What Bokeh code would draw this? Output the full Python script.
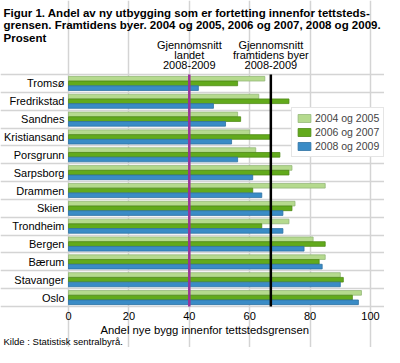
from bokeh.plotting import figure
from bokeh.models import ColumnDataSource, Label, Legend, LegendItem, FixedTicker
from bokeh.embed import file_html
from bokeh.resources import INLINE

cities = ["Tromsø", "Fredrikstad", "Sandnes", "Kristiansand", "Porsgrunn", "Sarpsborg",
          "Drammen", "Skien", "Trondheim", "Bergen", "Bærum", "Stavanger", "Oslo"]
v2004_2005 = [65, 63, 56, 60, 62, 74, 85, 75, 73, 81, 85, 90, 97]
v2006_2007 = [56, 73, 57, 67, 70, 73, 61, 74, 64, 85, 83, 91, 94]
v2008_2009 = [43, 48, 52, 54, 56, 61, 64, 71, 71, 78, 84, 90, 96]
series_names = ["2004 og 2005", "2006 og 2007", "2008 og 2009"]
avg_landet = 40
avg_byer = 67
x_ticks = [0, 20, 40, 60, 80, 100]

title_lines = ["Figur 1. Andel av ny utbygging som er fortetting innenfor tettsteds-",
               "grensen. Framtidens byer. 2004 og 2005, 2006 og 2007, 2008 og 2009.",
               "Prosent"]
ann1 = ["Gjennomsnitt", "landet", "2008-2009"]
ann2 = ["Gjennomsnitt", "framtidens byer", "2008-2009"]
x_label = "Andel nye bygg innenfor tettstedsgrensen"
source_text = "Kilde : Statistisk sentralbyrå."

FONT = "Liberation Sans"
n = len(cities)
ypos = [n - 1 - i for i in range(n)]
colors = ["#b5da8e", "#62aa1c", "#3a8cc6"]
outlines = ["#94b878", "#4f8a17", "#2f72a3"]
offsets = [0.265, 0.0, -0.265]
bar_h = 0.26

# canvas geometry (the frame covers the whole canvas; axes sit at fixed data locations)
W, H = 384, 347
plot_left, plot_right = 68, 370
plot_top, plot_bottom = 74, 306
px_x = (plot_right - plot_left) / 100.0
px_y = (plot_bottom - plot_top) / n
x_start = -plot_left / px_x
x_end = 100 + (W - plot_right) / px_x
y_start = -0.5 - (H - plot_bottom) / px_y
y_end = (n - 0.5) + plot_top / px_y

p = figure(width=W, height=H, output_backend="svg", toolbar_location=None,
           x_range=(x_start, x_end), y_range=(y_start, y_end),
           min_border=0, min_border_left=0, min_border_right=0,
           min_border_top=0, min_border_bottom=0)
p.outline_line_color = None
p.background_fill_color = "white"
p.border_fill_color = "white"

renderers = []
for vals, col, oc, off in zip([v2004_2005, v2006_2007, v2008_2009], colors, outlines, offsets):
    src = ColumnDataSource(dict(y=[y + off for y in ypos], right=vals))
    r = p.hbar(y="y", right="right", left=0, height=bar_h, source=src,
               fill_color=col, line_color=oc, line_width=0.8)
    renderers.append(r)

# average lines, limited to the bar area
p.segment(x0=[avg_landet], y0=[-0.5], x1=[avg_landet], y1=[n - 0.5], line_color="#993399", line_width=2.5)
p.segment(x0=[avg_byer], y0=[-0.5], x1=[avg_byer], y1=[n - 0.5], line_color="black", line_width=2.5)

# axes, pinned to the edges of the bar area
p.xaxis.fixed_location = -0.5
p.xaxis.ticker = FixedTicker(ticks=x_ticks)
p.xaxis.axis_line_color = None
p.xaxis.major_tick_line_color = None
p.xaxis.minor_tick_line_color = None
p.xaxis.major_tick_out = 0
p.xaxis.major_tick_in = 0
p.xaxis.major_label_text_font = FONT
p.xaxis.major_label_text_font_size = "11px"
p.xaxis.major_label_text_color = "black"
p.xaxis.major_label_standoff = 5

p.yaxis.fixed_location = 0
p.yaxis.ticker = FixedTicker(ticks=ypos)
p.yaxis.major_label_overrides = {y: c for y, c in zip(ypos, cities)}
p.yaxis.axis_line_color = None
p.yaxis.major_tick_line_color = None
p.yaxis.minor_tick_line_color = None
p.yaxis.major_tick_out = 0
p.yaxis.major_tick_in = 0
p.yaxis.major_label_text_font = FONT
p.yaxis.major_label_text_font_size = "11px"
p.yaxis.major_label_text_color = "black"
p.yaxis.major_label_standoff = 4

p.xgrid.ticker = FixedTicker(ticks=x_ticks)
p.xgrid.bounds = (-0.5, n - 0.5)
p.xgrid.grid_line_color = "#d4d4d4"
p.xgrid.grid_line_width = 1.5
p.ygrid.ticker = FixedTicker(ticks=[y - 0.5 for y in range(n + 1)])
p.ygrid.bounds = (0, 100)
p.ygrid.grid_line_color = "#d4d4d4"
p.ygrid.grid_line_width = 1.5

def up(canvas_y):
    # screen units are measured upward from the canvas (frame) bottom
    return H - canvas_y

# title
for i, line in enumerate(title_lines):
    p.add_layout(Label(x=3, y=up(12 + 12.5 * i), x_units="screen", y_units="screen",
                       text=line, text_font=FONT, text_font_style="bold", text_font_size="11.5px",
                       text_baseline="alphabetic", text_align="left", text_color="black"))

# annotations above the bar area
for ann, xv in ((ann1, avg_landet), (ann2, avg_byer)):
    for i, line in enumerate(ann):
        p.add_layout(Label(x=xv, y=up(44 + 10 * i), x_units="data", y_units="screen",
                           text=line, text_font=FONT, text_font_size="11px",
                           text_baseline="middle", text_align="center", text_color="black"))

# axis title and source
p.add_layout(Label(x=100, y=up(329), x_units="screen", y_units="screen",
                   text=x_label, text_font=FONT, text_font_size="11.3px",
                   text_baseline="middle", text_align="left", text_color="black"))
p.add_layout(Label(x=3, y=up(341), x_units="screen", y_units="screen",
                   text=source_text, text_font=FONT, text_font_size="9.5px",
                   text_baseline="middle", text_align="left", text_color="black"))

legend = Legend(items=[LegendItem(label=s, renderers=[r]) for s, r in zip(series_names, renderers)],
                location=(291, up(157)))
legend.label_text_font = FONT
legend.label_text_font_size = "10.5px"
legend.glyph_width = 16
legend.glyph_height = 10
legend.label_standoff = 3
legend.spacing = 2
legend.padding = 4
legend.margin = 0
legend.label_height = 12
legend.border_line_color = "#cccccc"
legend.background_fill_alpha = 1.0
p.add_layout(legend, "center")

open("out.html", "w").write(file_html(p, INLINE))
